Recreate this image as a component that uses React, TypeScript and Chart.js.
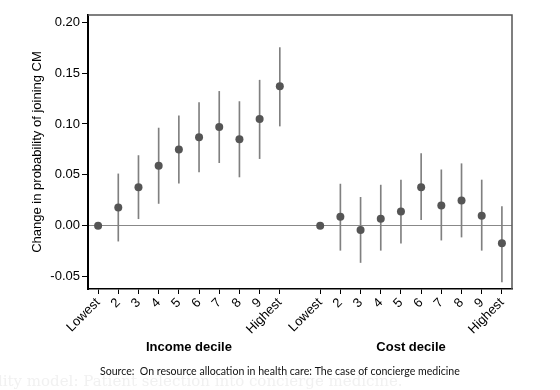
import React, { useEffect, useRef } from "react";
import { Chart, registerables } from "chart.js";

Chart.register(...registerables);

const decileLabels = ["Lowest", "2", "3", "4", "5", "6", "7", "8", "9", "Highest"];

const incomePoint = [0.0, 0.018, 0.038, 0.059, 0.075, 0.087, 0.097, 0.085, 0.105, 0.137];
const incomeLow = [0.0, -0.015, 0.007, 0.022, 0.042, 0.053, 0.062, 0.048, 0.066, 0.098];
const incomeHigh = [0.0, 0.051, 0.069, 0.096, 0.108, 0.121, 0.132, 0.122, 0.143, 0.175];

const costPoint = [0.0, 0.009, -0.004, 0.007, 0.014, 0.038, 0.02, 0.025, 0.01, -0.017];
const costLow = [0.0, -0.024, -0.036, -0.024, -0.017, 0.006, -0.014, -0.011, -0.024, -0.055];
const costHigh = [0.0, 0.041, 0.028, 0.04, 0.045, 0.071, 0.055, 0.061, 0.045, 0.019];

const yTicks = [-0.05, 0.0, 0.05, 0.1, 0.15, 0.2];

const groupTitles = ["Income decile", "Cost decile"];
const yTitle = "Change in probability of joining CM";
const sourceText = "Source:  On resource allocation in health care: The case of concierge medicine";
const ghostText = "lity model: Patient selection into concierge medicine.";

export default function App() {
  const ref = useRef<HTMLCanvasElement | null>(null);

  useEffect(() => {
    if (!ref.current) return;
    const labels = [...decileLabels, "", ...decileLabels];
    const points = [...incomePoint, null, ...costPoint];
    const bars = [
      ...incomeLow.map((l, i) => (i === 0 ? null : [l, incomeHigh[i]])),
      null,
      ...costLow.map((l, i) => (i === 0 ? null : [l, costHigh[i]])),
    ];

    const decor = {
      id: "decor",
      beforeDatasetsDraw(chart: any) {
        const { ctx, chartArea } = chart;
        ctx.save();
        ctx.strokeStyle = "#555";
        ctx.lineWidth = 1.5;
        ctx.beginPath();
        ctx.moveTo(chartArea.left, chartArea.top);
        ctx.lineTo(chartArea.right, chartArea.top);
        ctx.lineTo(chartArea.right, chartArea.bottom);
        ctx.stroke();
        ctx.restore();
      },
      afterDraw(chart: any) {
        const { ctx } = chart;
        const x = chart.scales.x;
        ctx.save();
        ctx.fillStyle = "#000";
        ctx.font = "bold 13px 'Liberation Sans', Arial, sans-serif";
        ctx.textAlign = "center";
        ctx.textBaseline = "middle";
        const c1 = (x.getPixelForValue(0) + x.getPixelForValue(9)) / 2;
        const c2 = (x.getPixelForValue(11) + x.getPixelForValue(20)) / 2;
        ctx.fillText(groupTitles[0], c1, 347);
        ctx.fillText(groupTitles[1], c2, 347);

        ctx.font = "15px 'DejaVu Serif', serif";
        ctx.fillStyle = "#f1f1f1";
        ctx.textAlign = "left";
        ctx.fillText(ghostText, -2, 382);

        ctx.fillStyle = "#111";
        let size = 12;
        ctx.font = `${size}px Lato, 'Open Sans', sans-serif`;
        const w = ctx.measureText(sourceText).width;
        size = Math.min(13, (12 * 360) / w);
        ctx.font = `${size}px Lato, 'Open Sans', sans-serif`;
        ctx.textAlign = "left";
        ctx.fillText(sourceText, 100, 372);
        ctx.restore();
      },
    };

    const chart = new Chart(ref.current, {
      type: "bar",
      data: {
        labels,
        datasets: [
          {
            type: "line",
            data: points as any,
            showLine: false,
            pointRadius: 4,
            pointHoverRadius: 4,
            pointBackgroundColor: "#555",
            pointBorderColor: "#555",
            pointBorderWidth: 0,
            order: 0,
          } as any,
          {
            type: "bar",
            data: bars as any,
            backgroundColor: "#808080",
            barThickness: 1,
            borderWidth: 0,
            order: 1,
          },
        ],
      },
      options: {
        animation: false,
        responsive: false,
        maintainAspectRatio: false,
        layout: { padding: { top: 15, right: 48, left: 0, bottom: 0 } },
        plugins: {
          legend: { display: false },
          tooltip: { enabled: false },
          title: { display: false },
        },
        scales: {
          x: {
            type: "category",
            offset: true,
            afterFit(scale: any) {
              scale.height = 101;
            },
            grid: {
              offset: false,
              drawOnChartArea: false,
              drawTicks: true,
              tickLength: 5,
              tickColor: (c: any) => (c.tick && c.tick.label === "" ? "transparent" : "#000"),
              tickWidth: 1,
            },
            border: { display: true, color: "#000", width: 1.5 },
            ticks: {
              autoSkip: false,
              maxRotation: 45,
              minRotation: 45,
              padding: 1,
              color: "#000",
              font: { family: "'Liberation Sans', Arial, sans-serif", size: 13 },
            },
          },
          y: {
            type: "linear",
            min: -0.062,
            max: 0.207,
            beginAtZero: false,
            afterFit(scale: any) {
              scale.width = 88;
            },
            afterBuildTicks(scale: any) {
              scale.ticks = yTicks.map((v) => ({ value: v }));
            },
            grid: {
              drawOnChartArea: true,
              color: (c: any) => (c.tick && Math.abs(c.tick.value) < 1e-9 ? "#888" : "transparent"),
              lineWidth: 1,
              drawTicks: true,
              tickLength: 6,
              tickColor: "#000",
              tickWidth: 1,
            },
            border: { display: true, color: "#000", width: 2 },
            ticks: {
              padding: 2,
              color: "#000",
              font: { family: "'Liberation Sans', Arial, sans-serif", size: 13 },
              callback: (v: any) => Number(v).toFixed(2),
            },
            title: {
              display: true,
              text: yTitle,
              color: "#000",
              font: { family: "'Liberation Sans', Arial, sans-serif", size: 13 },
              padding: { top: 30, bottom: 0 },
            },
          },
        },
      },
      plugins: [decor],
    });
    return () => chart.destroy();
  }, []);

  return (
    <div style={{ position: "fixed", left: 0, top: 0, width: 560, height: 390, background: "#fff" }}>
      <canvas ref={ref} width={560} height={390} style={{ width: 560, height: 390, display: "block" }} />
    </div>
  );
}
